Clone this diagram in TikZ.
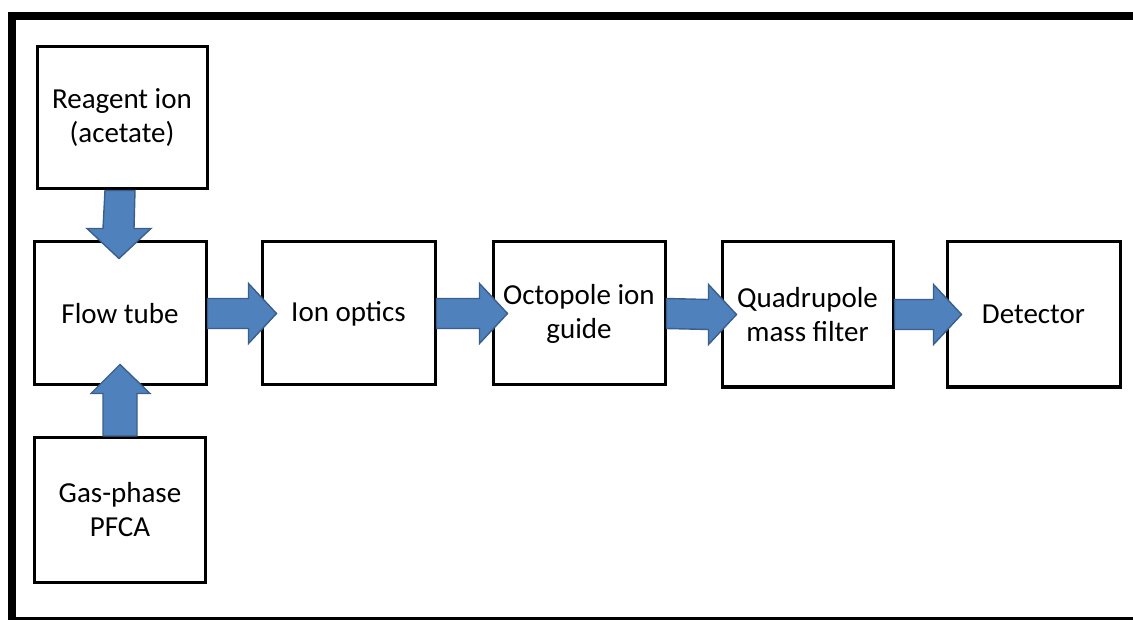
\documentclass[tikz,border=0pt]{standalone}
\usepackage{fontspec}
\setmainfont{Carlito}
\usetikzlibrary{calc}

\definecolor{arrowfill}{HTML}{4F81BD}
\definecolor{arrowline}{HTML}{3A5F8C}

\tikzset{
  stage/.style={draw=black, line width=3pt, fill=white, align=center,
    inner sep=0pt, font=\fontsize{29}{34}\selectfont},
  blockarrow/.style={fill=arrowfill, draw=arrowline, line width=1.4pt, line join=miter},
  frameline/.style={draw=black, line width=8pt}
}

% block arrow pointing right, from the east side of #1 into the west side of #2
\newcommand{\rightblock}[2]{%
  \draw[blockarrow]
    ($(#1.east)+(0,15)$) -- ($(#2.west)+(-12,15)$) -- ($(#2.west)+(-12,30)$)
    -- ($(#2.west)+(16,0)$)
    -- ($(#2.west)+(-12,-30)$) -- ($(#2.west)+(-12,-15)$) -- ($(#1.east)+(0,-15)$) -- cycle;}

\begin{document}
\begin{tikzpicture}[x=1pt,y=-1pt]
  \useasboundingbox (0,0) rectangle (1133,620);
  \clip (0,0) rectangle (1133,620);

  % outer frame, running past the right and lower edges
  \draw[frameline] (12,16) rectangle (1150,621);

  % stages
  \node[stage, minimum width=170pt, minimum height=142pt] (reagent) at (122,118)
    {Reagent ion\\(acetate)};
  \node[stage, minimum width=172pt, minimum height=143pt] (flow) at (120,313.5)
    {Flow tube};
  \node[stage, minimum width=171pt, minimum height=145pt] (gas) at (120,510)
    {Gas-phase\\PFCA};
  \node[stage, minimum width=173pt, minimum height=143pt] (optics) at (348.5,313.5)
    {Ion optics};
  \node[stage, minimum width=172pt, minimum height=143pt] (octo) at (579,313.5)
    {Octopole ion\\guide};
  \node[stage, minimum width=171pt, minimum height=145pt] (quad) at (807.5,314.5)
    {Quadrupole\\mass filter};
  \node[stage, minimum width=173pt, minimum height=145pt] (det) at (1033.5,314.5)
    {Detector};

  % reagent ions down into the flow tube
  \draw[blockarrow]
    ($(reagent.south)+(-17,0)$) -- ($(flow.north)+(-17,-12)$) -- ($(flow.north)+(-33,-12)$)
    -- ($(flow.north)+(-1,18)$)
    -- ($(flow.north)+(31,-12)$) -- ($(flow.north)+(14,-12)$) -- ($(reagent.south)+(13,0)$) -- cycle;

  % sample gas up into the flow tube
  \draw[blockarrow]
    ($(gas.north)+(-17,0)$) -- ($(flow.south)+(-17,7)$) -- ($(flow.south)+(-29,7)$)
    -- ($(flow.south)+(0,-22)$)
    -- ($(flow.south)+(30,7)$) -- ($(flow.south)+(17,7)$) -- ($(gas.north)+(17,0)$) -- cycle;

  % main ion path
  \rightblock{flow}{optics}
  \rightblock{optics}{octo}
  \rightblock{octo}{quad}
  \rightblock{quad}{det}
\end{tikzpicture}
\end{document}
